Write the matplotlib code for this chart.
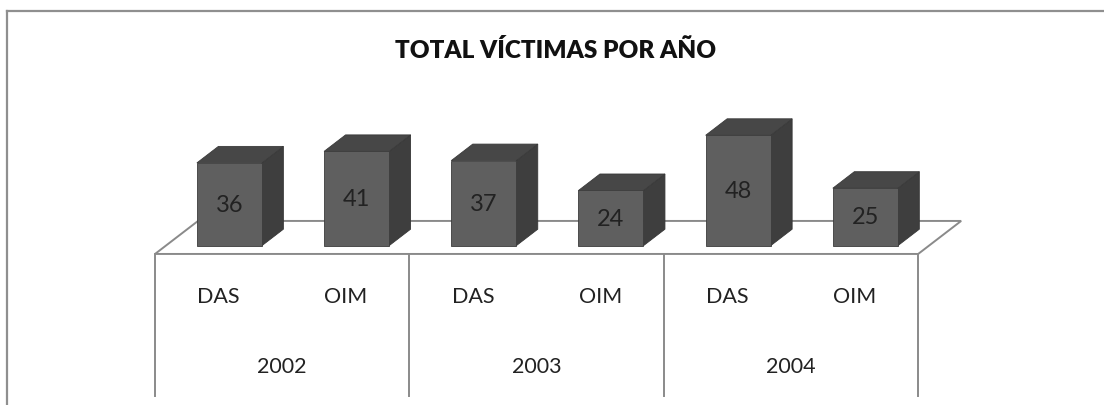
import matplotlib.pyplot as plt
from matplotlib.patches import Polygon
from matplotlib.lines import Line2D

plt.rcParams['font.family'] = ['Lato', 'DejaVu Sans']

title = 'TOTAL VÍCTIMAS POR AÑO'
years = ['2002', '2003', '2004']
sources = ['DAS', 'OIM']
das = [36, 37, 48]
oim = [41, 24, 25]

W, H = 1104, 406
fig = plt.figure(figsize=(W / 100, H / 100), dpi=100)
ax = fig.add_axes([0, 0, 1, 1])
# x in category slots, y in number of victims
ax.set_xlim(-1.219, 7.461)
ax.set_ylim(-69.26, 107.26)
ax.axis('off')

# fake 3d: depth offset of the floor (in slots / value units)
DX, DY = 0.338, 14.35
bar_w = 0.511
n_slots = len(years) * len(sources)
floor_y = -0.25 * DY
line_col = '#8a8a8a'

floor = Polygon([(0, floor_y), (n_slots, floor_y),
                 (n_slots + DX, floor_y + DY), (DX, floor_y + DY)],
                closed=True, facecolor='white', edgecolor=line_col, lw=1.4, zorder=1)
ax.add_patch(floor)

# category table under the floor
table_bottom = -65.2
for k in range(len(years) + 1):
    ax.plot([k * 2, k * 2], [floor_y, table_bottom], color=line_col, lw=1.4, zorder=1)

values = []
for d, o in zip(das, oim):
    values += [d, o]

for i, v in enumerate(values):
    xl = i + 0.5 - bar_w / 2 + 0.25 * DX
    xr = xl + bar_w
    ox, oy = 0.5 * DX, 0.5 * DY
    front = Polygon([(xl, 0), (xr, 0), (xr, v), (xl, v)], closed=True,
                    facecolor='#5f5f5f', edgecolor='#3c3c3c', lw=0.6, zorder=3)
    top = Polygon([(xl, v), (xr, v), (xr + ox, v + oy), (xl + ox, v + oy)], closed=True,
                  facecolor='#474747', edgecolor='#3a3a3a', lw=0.6, zorder=3)
    side = Polygon([(xr, 0), (xr + ox, oy), (xr + ox, v + oy), (xr, v)], closed=True,
                   facecolor='#3e3e3e', edgecolor='#363636', lw=0.6, zorder=3)
    for p in (side, top, front):
        ax.add_patch(p)
    ax.text((xl + xr) / 2, v / 2, str(v), ha='center', va='center',
            fontsize=17, color='#222222', zorder=4)
    ax.text(i + 0.5, -21.9, sources[i % 2], ha='center', va='center',
            fontsize=15.5, color='#222222')

for j, y in enumerate(years):
    ax.text(j * 2 + 1, -52.3, y, ha='center', va='center', fontsize=15.5, color='#222222')

fig.text(556 / W, 1 - 51 / H, title, ha='center', va='center',
         fontsize=17.5, fontweight='heavy', color='#111111')

# chart area frame (cut at right and bottom)
fig.add_artist(Line2D([6.5 / W, 6.5 / W], [0, 1 - 11.5 / H], color='#8f8f8f', lw=1.6))
fig.add_artist(Line2D([6.5 / W, 1], [1 - 11.5 / H, 1 - 11.5 / H], color='#8f8f8f', lw=1.6))

fig.savefig('out.png', dpi=100, facecolor='white')
